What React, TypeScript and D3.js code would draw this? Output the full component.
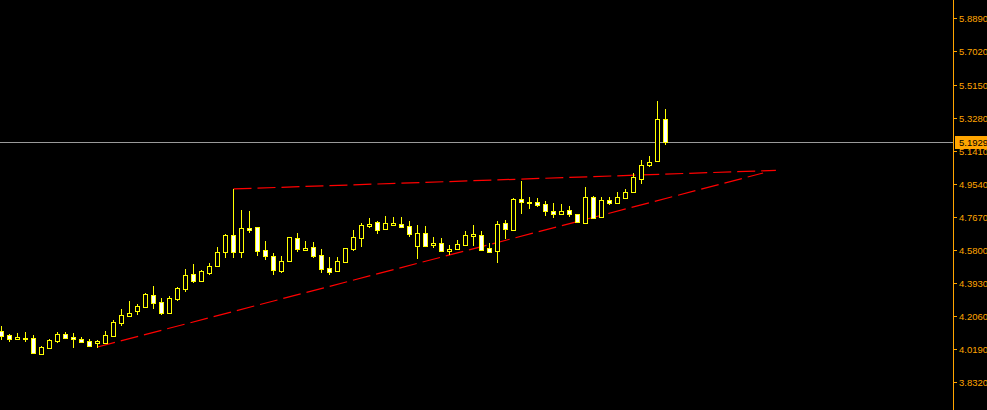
import React, { useEffect } from "react";
import * as d3 from "d3";

const W = 987;
const H = 410;

// OHLC values, one per bar (index 0..83)
const opens = [
  4.122, 4.098, 4.077, 4.083, 4.083, 3.994, 4.028, 4.066, 4.105, 4.087,
  4.077, 4.066, 4.053, 4.056, 4.096, 4.169, 4.209, 4.237, 4.258, 4.324,
  4.286, 4.226, 4.305, 4.361, 4.444, 4.407, 4.452, 4.491, 4.570, 4.663,
  4.567, 4.704, 4.708, 4.578, 4.544, 4.463, 4.518, 4.646, 4.580, 4.595,
  4.550, 4.478, 4.463, 4.514, 4.587, 4.650, 4.716, 4.738, 4.700, 4.721,
  4.725, 4.714, 4.604, 4.674, 4.607, 4.618, 4.576, 4.587, 4.610, 4.661,
  4.665, 4.590, 4.576, 4.733, 4.693, 4.868, 4.851, 4.851, 4.838, 4.800,
  4.785, 4.804, 4.782, 4.733, 4.879, 4.765, 4.862, 4.847, 4.876, 4.906,
  4.983, 5.059, 5.085, 5.318,
];
const highs = [
  4.151, 4.105, 4.113, 4.117, 4.100, 4.038, 4.079, 4.115, 4.115, 4.111,
  4.087, 4.077, 4.073, 4.122, 4.185, 4.247, 4.292, 4.275, 4.339, 4.377,
  4.309, 4.320, 4.373, 4.473, 4.501, 4.467, 4.507, 4.597, 4.670, 4.925,
  4.806, 4.800, 4.708, 4.631, 4.561, 4.546, 4.652, 4.676, 4.631, 4.625,
  4.586, 4.539, 4.540, 4.590, 4.693, 4.731, 4.759, 4.744, 4.772, 4.766,
  4.766, 4.744, 4.721, 4.716, 4.653, 4.650, 4.608, 4.635, 4.686, 4.721,
  4.687, 4.620, 4.744, 4.750, 4.874, 4.970, 4.879, 4.874, 4.855, 4.846,
  4.840, 4.829, 4.783, 4.936, 4.885, 4.878, 4.879, 4.908, 4.925, 5.013,
  5.087, 5.111, 5.422, 5.377,
];
const lows = [
  4.072, 4.060, 4.072, 4.060, 3.992, 3.992, 4.022, 4.053, 4.075, 4.026,
  4.056, 4.034, 4.028, 4.049, 4.090, 4.152, 4.203, 4.214, 4.252, 4.248,
  4.213, 4.220, 4.294, 4.344, 4.392, 4.403, 4.440, 4.486, 4.537, 4.537,
  4.537, 4.678, 4.548, 4.525, 4.439, 4.450, 4.512, 4.569, 4.574, 4.533,
  4.452, 4.439, 4.455, 4.514, 4.576, 4.597, 4.704, 4.672, 4.693, 4.720,
  4.709, 4.653, 4.529, 4.599, 4.593, 4.570, 4.550, 4.587, 4.607, 4.604,
  4.574, 4.565, 4.508, 4.640, 4.689, 4.782, 4.810, 4.821, 4.774, 4.763,
  4.779, 4.768, 4.731, 4.729, 4.757, 4.761, 4.834, 4.842, 4.872, 4.906,
  4.955, 5.051, 5.085, 5.175,
];
const closes = [
  4.094, 4.079, 4.088, 4.082, 3.996, 4.032, 4.071, 4.105, 4.081, 4.076,
  4.062, 4.038, 4.064, 4.100, 4.172, 4.211, 4.222, 4.262, 4.330, 4.282,
  4.226, 4.307, 4.365, 4.437, 4.407, 4.460, 4.490, 4.569, 4.663, 4.567,
  4.703, 4.693, 4.576, 4.544, 4.465, 4.516, 4.652, 4.587, 4.591, 4.548,
  4.474, 4.457, 4.518, 4.590, 4.652, 4.720, 4.727, 4.695, 4.731, 4.731,
  4.710, 4.672, 4.674, 4.604, 4.619, 4.576, 4.584, 4.614, 4.663, 4.672,
  4.580, 4.570, 4.727, 4.700, 4.868, 4.850, 4.851, 4.836, 4.799, 4.785,
  4.799, 4.785, 4.737, 4.878, 4.763, 4.861, 4.844, 4.878, 4.906, 4.991,
  5.059, 5.076, 5.318, 5.1929,
];

// Price axis tick labels
const tickLabels = [
  "5.8890", "5.7020", "5.5150", "5.3280", "5.1410", "4.9540",
  "4.7670", "4.5800", "4.3930", "4.2060", "4.0190", "3.8320",
];

const currentPrice = 5.1929;
const currentPriceLabel = "5.1929";

// Trendlines (bar index, price)
const upperTrendIdx = [29, 96.8];
const upperTrendPrice = [4.925, 5.03];
const lowerTrendIdx = [12, 95.2];
const lowerTrendPrice = [4.032, 5.015];

const YELLOW = "#FFFF00";
const ORANGE = "#FFA500";

export default function App() {
  useEffect(() => {
    document.body.style.margin = "0";
    document.body.style.background = "#000";
  }, []);

  const n = opens.length;
  const x = d3.scaleLinear().domain([0, n - 1]).range([1.5, 1.5 + 8 * (n - 1)]);
  const y = d3.scaleLinear().domain([3.832, 5.889]).range([382.4, 18.3]);

  const axisX = 953.5;

  const line = d3
    .line<[number, number]>()
    .x((d) => x(d[0]))
    .y((d) => y(d[1]));

  const upperPts: [number, number][] = upperTrendIdx.map((v, i) => [v, upperTrendPrice[i]]);
  const lowerPts: [number, number][] = lowerTrendIdx.map((v, i) => [v, lowerTrendPrice[i]]);

  const priceY = Math.round(y(currentPrice)) + 0.5;

  return (
    <svg
      width={W}
      height={H}
      style={{ position: "fixed", left: 0, top: 0, background: "#000", display: "block" }}
    >
      <rect x={0} y={0} width={W} height={H} fill="#000" />
      {/* current price line */}
      <line x1={0} x2={axisX} y1={priceY} y2={priceY} stroke="#9a9a9a" strokeWidth={1} shapeRendering="crispEdges" />

      {/* trendlines */}
      <path d={line(upperPts) || ""} fill="none" stroke="#FF0000" strokeWidth={1.2} strokeDasharray="18 6" />
      <path d={line(lowerPts) || ""} fill="none" stroke="#FF0000" strokeWidth={1.2} strokeDasharray="18 6" />

      {/* candles */}
      <g shapeRendering="crispEdges">
        {opens.map((o, i) => {
          const c = closes[i];
          const cx = x(i);
          const top = Math.round(y(Math.max(o, c)));
          const bot = Math.round(y(Math.min(o, c)));
          const bull = c >= o;
          const hgt = Math.max(1, bot - top);
          return (
            <g key={i}>
              <line x1={cx} x2={cx} y1={Math.round(y(highs[i]))} y2={Math.round(y(lows[i]))} stroke={YELLOW} strokeWidth={1} />
              <rect x={cx - 2} y={top + 0.5} width={4} height={hgt} fill={bull ? "#000" : "#FFFFFF"} stroke={YELLOW} strokeWidth={1} />
            </g>
          );
        })}
      </g>

      {/* right axis */}
      <line x1={axisX} x2={axisX} y1={0} y2={H} stroke={ORANGE} strokeWidth={1} shapeRendering="crispEdges" />
      {tickLabels.map((t) => {
        const ty = Math.round(y(+t)) + 0.5;
        return (
          <g key={t}>
            <line x1={axisX} x2={axisX + 3} y1={ty} y2={ty} stroke={ORANGE} strokeWidth={1} shapeRendering="crispEdges" />
            <text x={959} y={ty} dy="0.35em" fill={ORANGE} fontFamily="'Liberation Sans', Arial, sans-serif" fontSize={9.5}>
              {t}
            </text>
          </g>
        );
      })}
      <rect x={955} y={priceY - 6.5} width={32} height={13} fill={ORANGE} shapeRendering="crispEdges" />
      <text x={959} y={priceY} dy="0.35em" fill="#000" fontFamily="'Liberation Sans', Arial, sans-serif" fontSize={9.5}>
        {currentPriceLabel}
      </text>
    </svg>
  );
}
